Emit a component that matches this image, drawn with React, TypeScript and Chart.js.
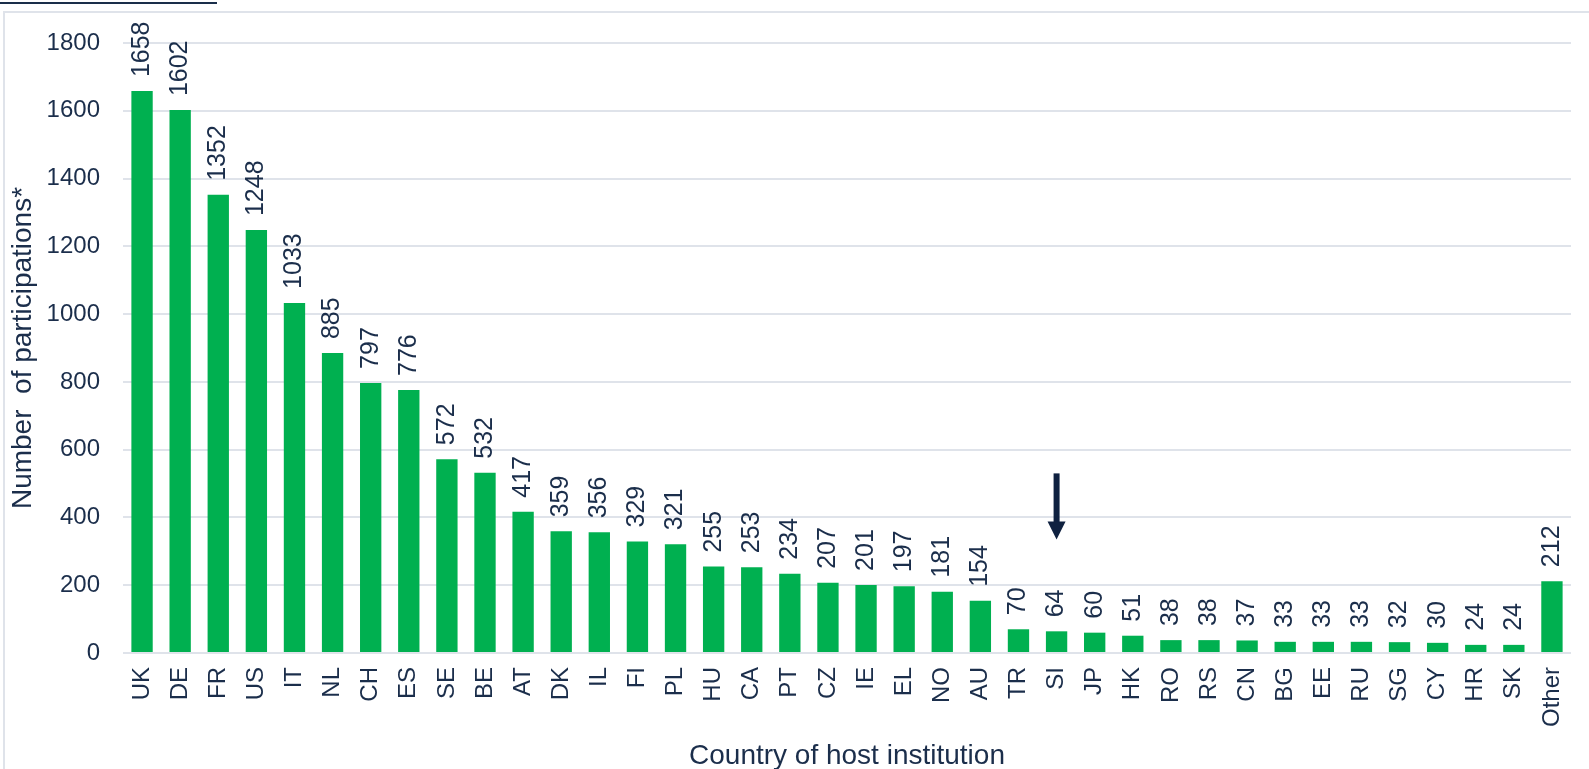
import React, { useEffect, useRef } from "react";
import { Chart, registerables } from "chart.js";

Chart.register(...registerables);

const categories: string[] = [
  "UK", "DE", "FR", "US", "IT", "NL", "CH", "ES", "SE", "BE", "AT", "DK", "IL",
  "FI", "PL", "HU", "CA", "PT", "CZ", "IE", "EL", "NO", "AU", "TR", "SI", "JP",
  "HK", "RO", "RS", "CN", "BG", "EE", "RU", "SG", "CY", "HR", "SK", "Other",
];

const participations: number[] = [
  1658, 1602, 1352, 1248, 1033, 885, 797, 776, 572, 532, 417, 359, 356,
  329, 321, 255, 253, 234, 207, 201, 197, 181, 154, 70, 64, 60,
  51, 38, 38, 37, 33, 33, 33, 32, 30, 24, 24, 212,
];

const yTickMin = 0;
const yTickMax = 1800;
const yTickStep = 200;

const yTitle = "Number  of participations*";
const xTitle = "Country of host institution";

// arrow annotation pointing at a category (value range in data units)
const arrowCategory = "SI";
const arrowTopValue = 530;
const arrowTipValue = 335;

const FONT = "'Liberation Sans', Arial, sans-serif";
const TEXT = "#1b2e4b";
const GREEN = "#00b050";
const GRID = "#dfe3ea";

const overlayPlugin = {
  id: "overlay",
  afterDatasetsDraw(chart: any) {
    const { ctx } = chart;
    const meta = chart.getDatasetMeta(0);
    ctx.save();
    ctx.fillStyle = TEXT;
    ctx.font = `25px ${FONT}`;
    ctx.textAlign = "left";
    ctx.textBaseline = "middle";
    meta.data.forEach((bar: any, i: number) => {
      const v = participations[i];
      ctx.save();
      ctx.translate(bar.x, bar.y - 14);
      ctx.rotate(-Math.PI / 2);
      ctx.fillText(String(v), 0, 0);
      ctx.restore();
    });
    // arrow
    const xs = chart.scales.x;
    const ys = chart.scales.y;
    const ax = xs.getPixelForValue(categories.indexOf(arrowCategory));
    const yTop = ys.getPixelForValue(arrowTopValue);
    const yTip = ys.getPixelForValue(arrowTipValue);
    const headH = 18;
    const headW = 18;
    ctx.fillStyle = "#0f2140";
    ctx.fillRect(ax - 3, yTop, 6, yTip - yTop - headH + 1);
    ctx.beginPath();
    ctx.moveTo(ax - headW / 2, yTip - headH);
    ctx.lineTo(ax + headW / 2, yTip - headH);
    ctx.lineTo(ax, yTip);
    ctx.closePath();
    ctx.fill();
    ctx.restore();
  },
};

export default function App() {
  const canvasRef = useRef<HTMLCanvasElement | null>(null);

  useEffect(() => {
    if (!canvasRef.current) return;
    const chart = new Chart(canvasRef.current, {
      type: "bar",
      data: {
        labels: categories,
        datasets: [
          {
            data: participations,
            backgroundColor: GREEN,
            borderWidth: 0,
            barPercentage: 0.56,
            categoryPercentage: 1,
          },
        ],
      },
      options: {
        animation: false,
        responsive: true,
        maintainAspectRatio: false,
        layout: { padding: { top: 43, right: 18, left: 0, bottom: 0 } },
        plugins: {
          legend: { display: false },
          tooltip: { enabled: false },
        },
        scales: {
          x: {
            afterFit: (scale: any) => {
              scale.height = 116;
              scale.paddingLeft = 0;
              scale.paddingRight = 0;
            },
            grid: { display: false, drawTicks: false },
            border: { display: false },
            ticks: {
              autoSkip: false,
              minRotation: 90,
              maxRotation: 90,
              padding: 14,
              color: TEXT,
              font: { family: FONT, size: 24 },
            },
            title: {
              display: true,
              text: xTitle,
              color: TEXT,
              font: { family: FONT, size: 28 },
              padding: { top: 0, bottom: -4 },
            },
          },
          y: {
            min: yTickMin,
            max: yTickMax,
            afterFit: (scale: any) => {
              scale.width = 123;
            },
            grid: { color: GRID, lineWidth: 2, drawTicks: false },
            border: { display: false },
            ticks: {
              stepSize: yTickStep,
              padding: 23,
              color: TEXT,
              font: { family: FONT, size: 24 },
              callback: (v: any) => String(v),
            },
            title: {
              display: true,
              text: yTitle,
              color: TEXT,
              font: { family: FONT, size: 28 },
              padding: { top: 6, bottom: 0 },
            },
          },
        },
      },
      plugins: [overlayPlugin],
    });
    return () => chart.destroy();
  }, []);

  return (
    <div
      style={{
        position: "absolute",
        left: 0,
        top: 0,
        width: 1589,
        height: 769,
        background: "#ffffff",
        overflow: "hidden",
      }}
    >
      <div
        style={{
          position: "absolute",
          left: 0,
          top: 2,
          width: 217,
          height: 2,
          background: "#1a2e4a",
        }}
      />
      <div
        style={{
          position: "absolute",
          left: 3,
          top: 11,
          width: 1600,
          height: 800,
          borderTop: `2px solid ${GRID}`,
          borderLeft: `2px solid ${GRID}`,
        }}
      />
      <canvas ref={canvasRef} style={{ position: "relative" }} />
    </div>
  );
}
